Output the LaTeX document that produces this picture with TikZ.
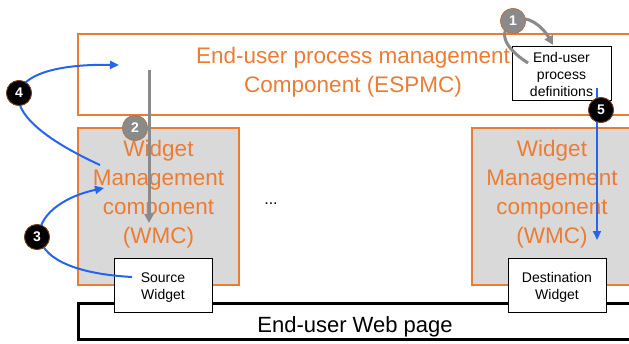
\documentclass[tikz,border=0pt]{standalone}
\usepackage{fontspec}
\setmainfont{Liberation Sans}
\usetikzlibrary{arrows.meta}
\definecolor{compOrange}{RGB}{236,124,52}
\definecolor{compGray}{RGB}{217,217,217}
\definecolor{flowBlue}{RGB}{38,100,240}
\definecolor{flowGray}{RGB}{138,138,138}
\definecolor{rimOrange}{RGB}{200,110,50}
\begin{document}
\begin{tikzpicture}[x=1pt,y=-1pt,
  compbox/.style={draw=compOrange,line width=1.4pt},
  comptext/.style={text=compOrange,align=center,anchor=base,
    font=\fontsize{22.5}{29}\selectfont},
  widgetbox/.style={draw=black,fill=white,line width=0.9pt,
    minimum width=98pt,minimum height=54pt,inner sep=0pt},
  smalltext/.style={align=center,anchor=base,font=\fontsize{14}{17}\selectfont},
  stepdot/.style={circle,minimum size=25pt,inner sep=0pt,line width=0.8pt,
    text=white,font=\fontsize{14}{14}\selectfont\bfseries},
  graydot/.style={stepdot,fill=flowGray,draw=rimOrange!60!flowGray},
  blackdot/.style={stepdot,fill=black,draw=rimOrange!60!black},
  grayflow/.style={draw=flowGray,line width=3pt},
  blueflow/.style={draw=flowBlue,line width=2pt},
  bluetip/.style={-{Triangle[length=9pt,width=8pt]}},
]
\useasboundingbox (0,0) rectangle (629,343);

% process management component (text anchored at its last baseline)
\draw[compbox] (78,34) rectangle (640,115);
\node[comptext] (espmc) at (353,92) {End-user process management\\Component (ESPMC)};

% widget management components
\draw[compbox,fill=compGray] (78,128) rectangle (239,285);
\node[comptext] (wmcL) at (158.5,243) {Widget\\Management\\component\\(WMC)};
\draw[compbox,fill=compGray] (472,128) rectangle (640,285);
\node[comptext] (wmcR) at (552,243) {Widget\\Management\\component\\(WMC)};

\node[font=\fontsize{16}{16}\selectfont] (dots) at (271,204) {...};

% web page
\draw[draw=black,fill=white,line width=3pt] (78,303) rectangle (640,339);
\node[anchor=base,font=\fontsize{22}{22}\selectfont] (page) at (355,332) {End-user Web page};

% widgets
\node[widgetbox] (src) at (163,285) {};
\node[smalltext] (srcT) at (163,299) {Source\\Widget};
\node[widgetbox] (dst) at (557,285) {};
\node[smalltext] (dstT) at (557,299) {Destination\\Widget};

% process definitions
\node[widgetbox,minimum width=99pt] (defs) at (561.5,73) {};
\node[smalltext] (defsT) at (561.5,96) {End-user\\process\\definitions};

% flow anchors
\coordinate (a1s) at (528,63);
\coordinate (a1e) at (553,45);
\coordinate (a2s) at (149,70);
\coordinate (a2e) at (149,223);
\coordinate (a3s) at (132,277);
\coordinate (a3e) at (104,188);
\coordinate (a4s) at (100,165);
\coordinate (a4e) at (119,65);
\coordinate (a5s) at (597,88);
\coordinate (a5e) at (597,240);

% step markers
\node[graydot] (n1) at (513,21) {1};
\node[graydot] (n2) at (135,128) {2};
\node[blackdot] (n3) at (37,237) {3};
\node[blackdot] (n4) at (19,93) {4};
\node[blackdot] (n5) at (601,110) {5};

% flows
\draw[grayflow,-{Triangle[length=9pt,width=9pt]}] (a1s) .. controls (500,45) and (500,30) .. (n1.center)
  .. controls (527,13) and (543,27) .. (a1e);
\draw[grayflow,-{Triangle[length=9pt,width=9pt]}] (a2s) -- (a2e);
\draw[blueflow,bluetip] (a3s) .. controls (5,270) and (25,205) .. (a3e);
\draw[blueflow,bluetip] (a4s) .. controls (-20,110) and (0,63) .. (a4e);
\draw[blueflow,bluetip] (a5s) -- (a5e);

% markers on top of the flows
\node[graydot] at (n1) {1};
\node[graydot] at (n2) {2};
\node[blackdot] at (n3) {3};
\node[blackdot] at (n4) {4};
\node[blackdot] at (n5) {5};
\end{tikzpicture}
\end{document}
